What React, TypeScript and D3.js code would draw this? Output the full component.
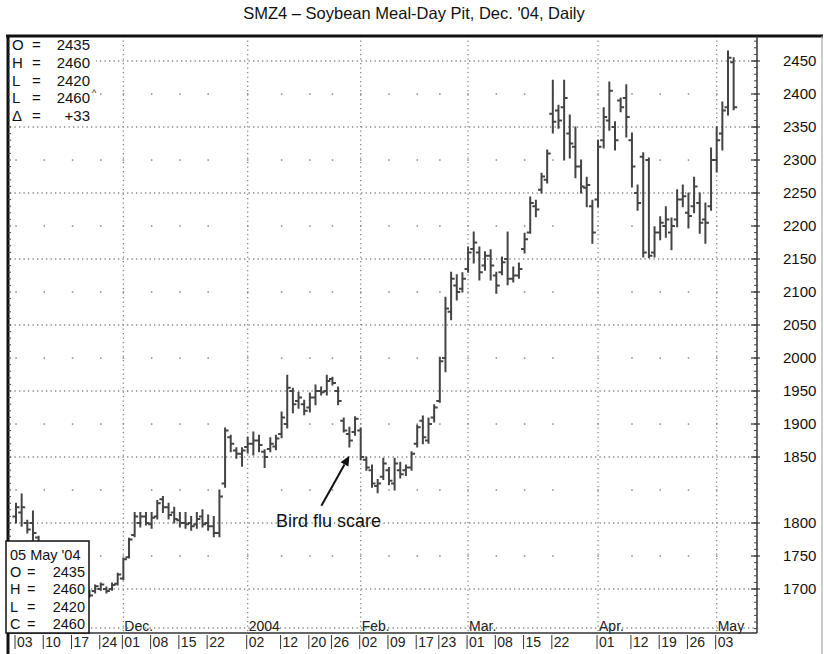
import React from "react";
import * as d3 from "d3";

// ---------- data ----------
const novDays = [3, 4, 5, 6, 7, 10, 11, 12, 13, 14, 17, 18, 19, 20, 21, 24, 25, 26, 28];
const decDays = [1, 2, 3, 4, 5, 8, 9, 10, 11, 12, 15, 16, 17, 18, 19, 22, 23, 24, 26, 29, 30, 31];
const janDays = [2, 5, 6, 7, 8, 9, 12, 13, 14, 15, 16, 20, 21, 22, 23, 26, 27, 28, 29, 30];
const febDays = [2, 3, 4, 5, 6, 9, 10, 11, 12, 13, 17, 18, 19, 20, 23, 24, 25, 26, 27];
const marDays = [1, 2, 3, 4, 5, 8, 9, 10, 11, 12, 15, 16, 17, 18, 19, 22, 23, 24, 25, 26, 29, 30, 31];
const aprDays = [1, 2, 5, 6, 7, 8, 12, 13, 14, 15, 16, 19, 20, 21, 22, 23, 26, 27, 28, 29, 30];
const mayDays = [3, 4, 5, 6];

const opens = [
  1805, 1808, 1800, 1800, 1778, 1765, 1755, 1745, 1735, 1725, 1718, 1710, 1702, 1695, 1697, 1700, 1700, 1700, 1708,
  1716, 1748, 1782, 1800, 1805, 1798, 1805, 1818, 1812, 1808, 1802, 1800, 1800, 1798, 1805, 1800, 1795, 1785, 1830, 1880, 1860, 1855,
  1865, 1870, 1875, 1858, 1862, 1866, 1885, 1900, 1950, 1935, 1930, 1925, 1940, 1950, 1950, 1968, 1950, 1905, 1885, 1888,
  1890, 1848, 1840, 1828, 1835, 1840, 1830, 1840, 1840, 1842, 1870, 1905, 1875, 1910, 1935, 2000, 2070, 2110, 2105,
  2135, 2165, 2160, 2140, 2155, 2125, 2130, 2150, 2120, 2125, 2165, 2190, 2230, 2255, 2270, 2370, 2375, 2380, 2340, 2320, 2290, 2258, 2230,
  2240, 2330, 2360, 2350, 2390, 2394, 2330, 2250, 2305, 2300, 2160, 2190, 2200, 2190, 2210, 2240, 2220, 2230, 2235, 2210, 2230,
  2300, 2340, 2380, 2448,
];
const highs = [
  1815, 1822, 1802, 1809, 1780, 1768, 1760, 1752, 1742, 1732, 1724, 1716, 1708, 1698, 1706, 1709, 1703, 1709, 1724,
  1747, 1777, 1808, 1808, 1808, 1808, 1817, 1820, 1815, 1812, 1808, 1808, 1805, 1808, 1810, 1806, 1805, 1825, 1894, 1883, 1864, 1864,
  1880, 1888, 1883, 1861, 1879, 1883, 1918, 1974, 1954, 1948, 1936, 1947, 1959, 1956, 1974, 1971, 1956, 1909, 1895, 1911,
  1894, 1850, 1844, 1833, 1849, 1842, 1849, 1846, 1844, 1858, 1898, 1912, 1909, 1929, 2001, 2092, 2130, 2126, 2129,
  2168, 2191, 2168, 2161, 2164, 2130, 2153, 2191, 2138, 2144, 2189, 2244, 2239, 2280, 2315, 2421, 2383, 2421, 2368, 2350, 2300, 2274, 2239,
  2330, 2379, 2418, 2358, 2394, 2414, 2341, 2262, 2311, 2303, 2199, 2214, 2229, 2212, 2255, 2262, 2250, 2274, 2250, 2235, 2318,
  2350, 2388, 2465, 2455,
];
const lows = [
  1800, 1795, 1785, 1774, 1767, 1748, 1738, 1728, 1718, 1708, 1702, 1696, 1690, 1688, 1694, 1698, 1694, 1698, 1706,
  1714, 1747, 1779, 1794, 1797, 1792, 1803, 1808, 1803, 1800, 1794, 1792, 1789, 1792, 1794, 1789, 1779, 1779, 1827, 1858, 1849, 1843,
  1856, 1853, 1858, 1842, 1858, 1861, 1879, 1894, 1917, 1924, 1914, 1918, 1929, 1944, 1944, 1959, 1929, 1888, 1865, 1883,
  1848, 1840, 1827, 1823, 1833, 1829, 1825, 1834, 1836, 1840, 1865, 1870, 1871, 1903, 1933, 1979, 2058, 2088, 2100,
  2130, 2144, 2118, 2133, 2118, 2098, 2126, 2111, 2115, 2121, 2159, 2189, 2214, 2250, 2265, 2341, 2348, 2300, 2303, 2273, 2250, 2229, 2174,
  2229, 2318, 2345, 2315, 2373, 2335, 2259, 2224, 2153, 2152, 2153, 2179, 2183, 2164, 2199, 2229, 2197, 2220, 2189, 2174, 2224,
  2282, 2315, 2368, 2376,
];
const closes = [
  1812, 1812, 1790, 1785, 1770, 1755, 1745, 1735, 1725, 1718, 1710, 1702, 1696, 1690, 1704, 1707, 1697, 1706, 1722,
  1745, 1775, 1805, 1805, 1800, 1804, 1815, 1812, 1806, 1803, 1800, 1798, 1795, 1803, 1798, 1795, 1785, 1820, 1890, 1870, 1855, 1860,
  1870, 1875, 1868, 1850, 1870, 1878, 1910, 1955, 1930, 1940, 1920, 1940, 1950, 1948, 1965, 1962, 1935, 1890, 1875, 1908,
  1850, 1842, 1830, 1830, 1845, 1832, 1845, 1837, 1842, 1855, 1895, 1880, 1900, 1925, 1995, 2075, 2120, 2100, 2120,
  2160, 2175, 2130, 2155, 2140, 2110, 2145, 2120, 2125, 2135, 2180, 2235, 2225, 2275, 2310, 2358, 2360, 2394, 2325, 2290, 2260, 2262, 2190,
  2320, 2365, 2405, 2330, 2380, 2365, 2290, 2235, 2160, 2155, 2190, 2205, 2210, 2200, 2240, 2245, 2215, 2260, 2205, 2205, 2300,
  2330, 2375, 2455, 2380,
];

const priceLabels = [2450, 2400, 2350, 2300, 2250, 2200, 2150, 2100, 2050, 2000, 1950, 1900, 1850, 1800, 1750, 1700];
const denseGridValues = [2450, 2350, 2250, 2150, 2050, 1950, 1850, 1800, 1700];
const sparseGridValues = [2400, 2300, 2200, 2100, 2000, 1900, 1825, 1750];
const scaleStops = [1700, 1800, 1850, 2450];

const dateTicks = [
  "2003-11-03", "2003-11-10", "2003-11-17", "2003-11-24", "2003-12-01", "2003-12-08", "2003-12-15", "2003-12-22",
  "2004-01-02", "2004-01-12", "2004-01-20", "2004-01-26", "2004-02-02", "2004-02-09", "2004-02-17", "2004-02-23",
  "2004-03-01", "2004-03-08", "2004-03-15", "2004-03-22", "2004-04-01", "2004-04-12", "2004-04-19", "2004-04-26",
  "2004-05-03",
];
const monthStarts = ["2003-12-01", "2004-01-02", "2004-02-02", "2004-03-01", "2004-04-01", "2004-05-03"];
const monthNames = ["Dec.", "2004", "Feb.", "Mar.", "Apr.", "May"];

const infoLetters = ["O", "H", "L", "L", "Δ"];
const infoValues = ["2435", "2460", "2420", "2460", "+33"];
const boxDate = "05 May '04";
const boxLetters = ["O", "H", "L", "C"];
const boxValues = ["2435", "2460", "2420", "2460"];

const title = "SMZ4 – Soybean Meal-Day Pit, Dec. '04, Daily";
const annotationText = "Bird flu scare";
const annotationDate = "2004-01-29";
const annotationValue = 1852;

// ---------- helpers ----------
const pad = (d: number) => (d < 10 ? "0" + d : "" + d);
const tradingDates: string[] = [
  ...novDays.map((d) => `2003-11-${pad(d)}`),
  ...decDays.map((d) => `2003-12-${pad(d)}`),
  ...janDays.map((d) => `2004-01-${pad(d)}`),
  ...febDays.map((d) => `2004-02-${pad(d)}`),
  ...marDays.map((d) => `2004-03-${pad(d)}`),
  ...aprDays.map((d) => `2004-04-${pad(d)}`),
  ...mayDays.map((d) => `2004-05-${pad(d)}`),
];

const W = 824;
const H = 654;
const L = 8;
const R = 757;
const T = 36;
const B = 633;
const FONT = "'Liberation Sans', Arial, Helvetica, sans-serif";

export default function App() {
  const step = 712 / 126;
  const x = d3
    .scalePoint<string>()
    .domain(tradingDates)
    .range([16, 16 + step * (tradingDates.length - 1)]);
  const y = d3.scaleLinear().domain(scaleStops).range([589, 523, 457, 61]);

  const minorTicks = [
    ...d3.range(1600, 1800, 10),
    ...d3.range(1800, 1850, 5),
    ...d3.range(1850, 2500, 10),
  ].filter((v) => y(v) > T + 1 && y(v) < B - 1);

  const bars = tradingDates.map((d, i) => ({
    x: x(d) as number,
    o: y(opens[i]),
    h: y(highs[i]),
    l: y(lows[i]),
    c: y(closes[i]),
  }));

  const barPath = bars
    .map(
      (b) =>
        `M${b.x},${b.h - 0.5}V${b.l + 0.5}M${b.x - 3.5},${b.o}H${b.x}M${b.x},${b.c}H${b.x + 3.5}`
    )
    .join("");

  const ax = x(annotationDate) as number;
  const ay = y(annotationValue);
  const tailX = ax - 28;
  const tailY = ay + 50;
  const ang = Math.atan2(ay - tailY, ax - tailX);
  const ah = 10;
  const aw = 4.5;
  const hx = ax - ah * Math.cos(ang);
  const hy = ay - ah * Math.sin(ang);
  const arrowHead = `M${ax},${ay}L${hx + aw * Math.sin(ang)},${hy - aw * Math.cos(ang)}L${hx - aw * Math.sin(ang)},${hy + aw * Math.cos(ang)}Z`;

  return (
    <svg
      width={W}
      height={H}
      style={{ position: "absolute", left: 0, top: 0, background: "#fff" }}
      fontFamily={FONT}
    >
      <rect x={0} y={0} width={W} height={H} fill="#fff" />
      <text x={414} y={19} textAnchor="middle" fontSize={16.5} fill="#111">
        {title}
      </text>

      {/* dense horizontal grid */}
      {denseGridValues.map((v) => (
        <line key={"dg" + v} x1={L + 2} x2={R} y1={y(v)} y2={y(v)} stroke="#888" strokeWidth={1.3} strokeDasharray="1.3 3.2" />
      ))}
      {/* month label line */}
      <line x1={L + 2} x2={R} y1={628} y2={628} stroke="#888" strokeWidth={1.3} strokeDasharray="1.3 3.2" />
      {/* vertical month grid */}
      {monthStarts.map((d) => (
        <line key={"vm" + d} x1={x(d)} x2={x(d)} y1={T} y2={B} stroke="#888" strokeWidth={1.3} strokeDasharray="1.3 3.2" />
      ))}
      {/* sparse dots */}
      {sparseGridValues.map((v) =>
        dateTicks.map((d) => (
          <rect key={"sd" + v + d} x={(x(d) as number) - 0.7} y={y(v) - 0.7} width={1.5} height={1.5} fill="#888" />
        ))
      )}

      {/* bars */}
      <path d={barPath} fill="none" stroke="#444" strokeWidth={2} />

      {/* month labels */}
      {monthStarts.map((d, i) => (
        <text key={"ml" + d} x={(x(d) as number) + 1} y={631} fontSize={14} fill="#222">
          {monthNames[i]}
        </text>
      ))}

      {/* frame */}
      <line x1={L} x2={L} y1={T} y2={H} stroke="#111" strokeWidth={3} />
      <line x1={6} x2={823} y1={T} y2={T} stroke="#111" strokeWidth={3} />
      <line x1={822} x2={822} y1={T} y2={H} stroke="#999" strokeWidth={1} />
      <line x1={R} x2={R} y1={T} y2={B} stroke="#333" strokeWidth={1.5} />
      <line x1={L} x2={R} y1={B} y2={B} stroke="#333" strokeWidth={1.5} />

      {/* axis ticks */}
      {minorTicks.map((v) => (
        <g key={"mt" + v}>
          <line x1={R - 3} x2={R} y1={y(v)} y2={y(v)} stroke="#444" strokeWidth={1} />
          <line x1={L} x2={L + 3} y1={y(v)} y2={y(v)} stroke="#444" strokeWidth={1} />
        </g>
      ))}
      {priceLabels.map((v) => (
        <g key={"pl" + v}>
          <line x1={R - 6} x2={R + 3} y1={y(v)} y2={y(v)} stroke="#333" strokeWidth={1.2} />
          <text x={783} y={y(v) + 5} fontSize={15} fill="#111">
            {v}
          </text>
        </g>
      ))}

      {/* date labels */}
      {dateTicks.map((d) => (
        <g key={"dt" + d}>
          <line x1={(x(d) as number) - 1} x2={(x(d) as number) - 1} y1={B + 2} y2={B + 16} stroke="#333" strokeWidth={1} />
          <text x={(x(d) as number) + 1} y={B + 14} fontSize={14} fill="#222">
            {d.slice(8)}
          </text>
        </g>
      ))}

      {/* top-left info */}
      <rect x={L + 2} y={T + 2} width={86} height={85} fill="#fff" />
      {infoLetters.map((s, i) => (
        <g key={"ti" + i}>
          <text x={12} y={50 + i * 17.8} fontSize={15} fill="#111">{s}</text>
          <text x={32} y={50 + i * 17.8} fontSize={15} fill="#111">=</text>
          <text x={90} y={50 + i * 17.8} fontSize={15} fill="#111" textAnchor="end">{infoValues[i]}</text>
        </g>
      ))}
      <text x={92} y={96} fontSize={9} fill="#111">^</text>

      {/* bottom-left box */}
      <rect x={6} y={541} width={83} height={92} fill="#fff" stroke="#111" strokeWidth={1.5} />
      <text x={10} y={560} fontSize={14.5} fill="#111">{boxDate}</text>
      {boxLetters.map((s, i) => (
        <g key={"bi" + i}>
          <text x={10} y={577 + i * 17.3} fontSize={14.5} fill="#111">{s}</text>
          <text x={27} y={577 + i * 17.3} fontSize={14.5} fill="#111">=</text>
          <text x={85} y={577 + i * 17.3} fontSize={14.5} fill="#111" textAnchor="end">{boxValues[i]}</text>
        </g>
      ))}

      {/* annotation */}
      <line x1={tailX} y1={tailY} x2={hx} y2={hy} stroke="#111" strokeWidth={2} />
      <path d={arrowHead} fill="#111" />
      <text x={276} y={527} fontSize={18} fill="#111">{annotationText}</text>
    </svg>
  );
}
